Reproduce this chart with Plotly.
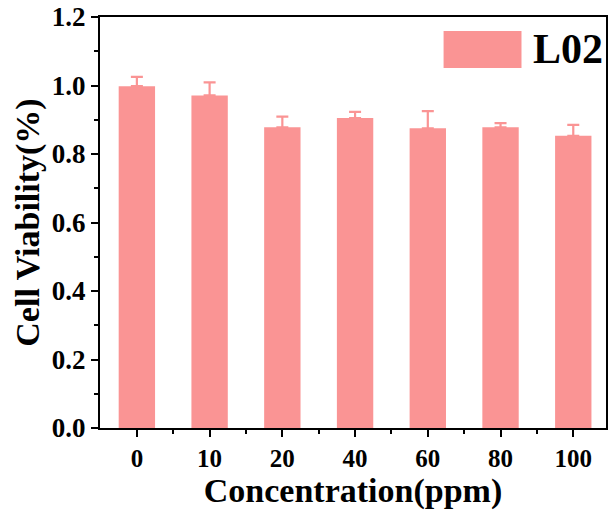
import plotly.graph_objects as go

categories = ["0", "10", "20", "40", "60", "80", "100"]
viability = [0.998, 0.971, 0.878, 0.905, 0.875, 0.878, 0.853]
errors = [0.027, 0.038, 0.031, 0.018, 0.050, 0.012, 0.032]
y_ticks = [0.0, 0.2, 0.4, 0.6, 0.8, 1.0, 1.2]
series_name = "L02"

bar_color = "rgb(250,148,148)"
font_family = "'Liberation Serif', 'Times New Roman', serif"

x_pos = list(range(len(categories)))

fig = go.Figure()
fig.add_trace(go.Bar(
    x=x_pos, y=viability, name=series_name,
    marker=dict(color=bar_color, line=dict(width=0)),
    width=0.5,
    error_y=dict(type="data", array=errors, symmetric=False, arrayminus=[0]*len(errors),
                 color=bar_color, thickness=2.2, width=6, visible=True),
    showlegend=False,
))

fig.update_layout(
    width=610, height=515,
    margin=dict(l=100, r=2, t=16, b=87),
    paper_bgcolor="white", plot_bgcolor="white",
    font=dict(family=font_family, color="black"),
    xaxis=dict(
        range=[-0.507, 6.45],
        tickvals=x_pos, ticktext=["<b>" + c + "</b>" for c in categories],
        ticks="outside", ticklen=7, tickwidth=2, tickcolor="black",
        minor=dict(tickvals=[i + 0.5 for i in x_pos[:-1]], ticks="outside", ticklen=4, tickwidth=2, tickcolor="black"),
        showline=True, linecolor="black", linewidth=2, mirror=True,
        showgrid=False, zeroline=False,
        tickfont=dict(family=font_family, size=25, color="black"),
        title=dict(text="<b>Concentration(ppm)</b>", font=dict(family=font_family, size=34, color="black"), standoff=2),
    ),
    yaxis=dict(
        range=[0, 1.2],
        tickvals=y_ticks, ticktext=["<b>%.1f</b>" % v for v in y_ticks],
        ticks="outside", ticklen=7, tickwidth=2, tickcolor="black",
        minor=dict(dtick=0.1, ticks="outside", ticklen=4, tickwidth=2, tickcolor="black"),
        showline=True, linecolor="black", linewidth=2, mirror=True,
        showgrid=False, zeroline=False,
        tickfont=dict(family=font_family, size=27, color="black"),
        title=dict(text="<b>Cell Viability(%)</b>", font=dict(family=font_family, size=34, color="black"), standoff=2),
    ),
)

# legend swatch and label
fig.add_shape(type="rect", xref="paper", yref="paper",
              x0=0.679, x1=0.833, y0=0.876, y1=0.966,
              fillcolor=bar_color, line=dict(width=0))
fig.add_annotation(xref="paper", yref="paper", x=0.852, y=0.922,
                   text="<b>" + series_name + "</b>", showarrow=False,
                   xanchor="left", yanchor="middle",
                   font=dict(family=font_family, size=42, color="black"))

fig.write_html("out.html")
